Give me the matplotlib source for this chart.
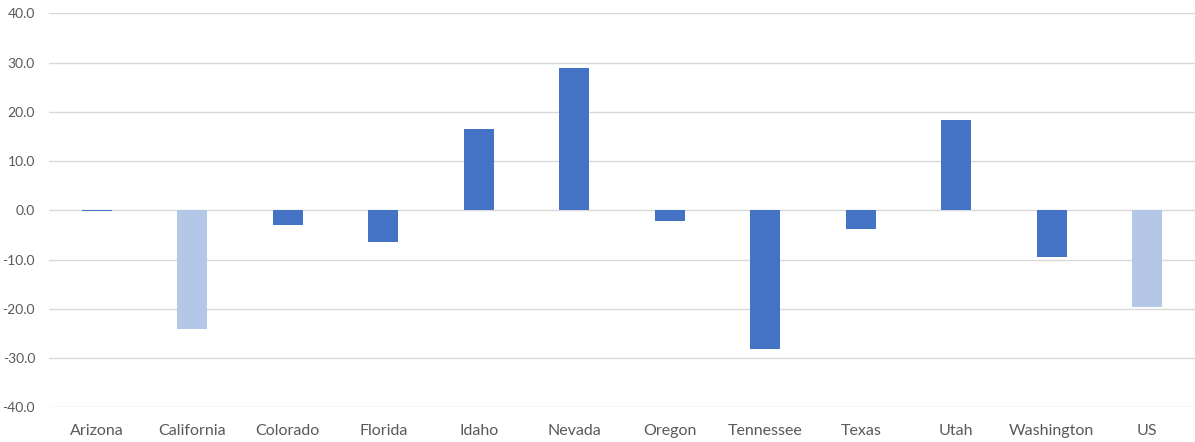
import matplotlib.pyplot as plt
import numpy as np

states = ['Arizona', 'California', 'Colorado', 'Florida', 'Idaho', 'Nevada',
          'Oregon', 'Tennessee', 'Texas', 'Utah', 'Washington', 'US']
values = [-0.2, -24.2, -2.9, -6.4, 16.6, 28.8, -2.2, -28.2, -3.7, 18.4, -9.5, -19.6]
highlight = ['California', 'US']

dark = '#4472C4'
light = '#B4C7E7'
colors = [light if s in highlight else dark for s in states]

plt.rcParams['font.family'] = ['Lato', 'DejaVu Sans']

fig = plt.figure(figsize=(11.95, 4.42), dpi=100)
ax = fig.add_axes([0.041, 0.0785, 0.959, 0.8915])

x = np.arange(len(states))
ax.bar(x, values, width=0.31, color=colors, zorder=3)

ax.set_xlim(-0.5, len(states) - 0.5)
ax.set_ylim(-40, 40)
ax.set_yticks(np.arange(-40, 41, 10))
ax.set_yticklabels([f'{v:.1f}' for v in np.arange(-40, 41, 10)])
ax.set_xticks(x)
ax.set_xticklabels(states)

ax.grid(axis='y', color='#d9d9d9', linewidth=1, zorder=0)
for s in ax.spines.values():
    s.set_visible(False)
ax.tick_params(axis='both', length=0, colors='#595959')
ax.tick_params(axis='x', labelsize=11.5, pad=12)
ax.tick_params(axis='y', labelsize=10, pad=10)

fig.savefig('out.png', dpi=100)
